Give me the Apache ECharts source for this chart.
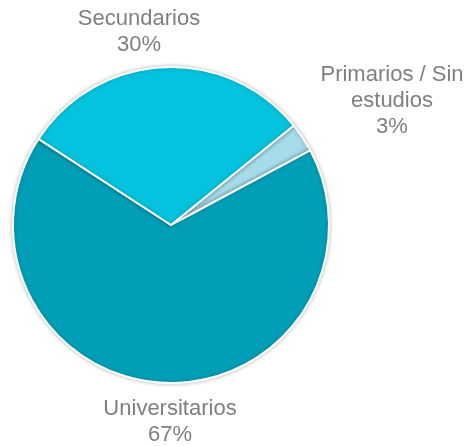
<!DOCTYPE html>
<html>
<head>
<meta charset="utf-8">
<script src="https://cdn.jsdelivr.net/npm/echarts@6/dist/echarts.min.js"></script>
<style>
  html, body { margin: 0; padding: 0; background: #fff; }
  #chart { width: 471px; height: 446px; }
</style>
</head>
<body>
<div id="chart"></div>
<script>
// 数据
const categories = ['Primarios / Sin\nestudios', 'Universitarios', 'Secundarios'];
const values = [3, 67, 30];
const colors = ['#a6dbea', '#009fb7', '#05c3de'];
// 标签相对圆心的偏移
const labelOffsets = [[221, -124], [-1, 197], [-32, -193]];

const pieCenter = [171, 225];

const chart = echarts.init(document.getElementById('chart'));

const option = {
    animation: false,
    series: [
        {
            type: 'pie',
            center: pieCenter,
            radius: 158,
            startAngle: 39,
            clockwise: true,
            data: categories.map((name, i) => ({
                name: name,
                value: values[i],
                itemStyle: { color: colors[i] }
            })),
            itemStyle: {
                borderColor: '#fff',
                borderWidth: 2,
                shadowBlur: 4,
                shadowColor: 'rgba(0,0,0,0.25)'
            },
            label: {
                show: true,
                position: 'outside',
                formatter: '{b}\n{d}%',
                fontFamily: 'Liberation Sans, Arial, sans-serif',
                fontSize: 22,
                lineHeight: 26,
                color: '#7f7f7f',
                overflow: 'none'
            },
            labelLine: { show: false },
            labelLayout: function(params) {
                const off = labelOffsets[params.dataIndex];
                return {
                    x: pieCenter[0] + off[0],
                    y: pieCenter[1] + off[1],
                    align: 'center',
                    verticalAlign: 'middle'
                };
            }
        }
    ]
};

chart.setOption(option);
window.addEventListener('resize', () => chart.resize());
</script>
</body>
</html>
